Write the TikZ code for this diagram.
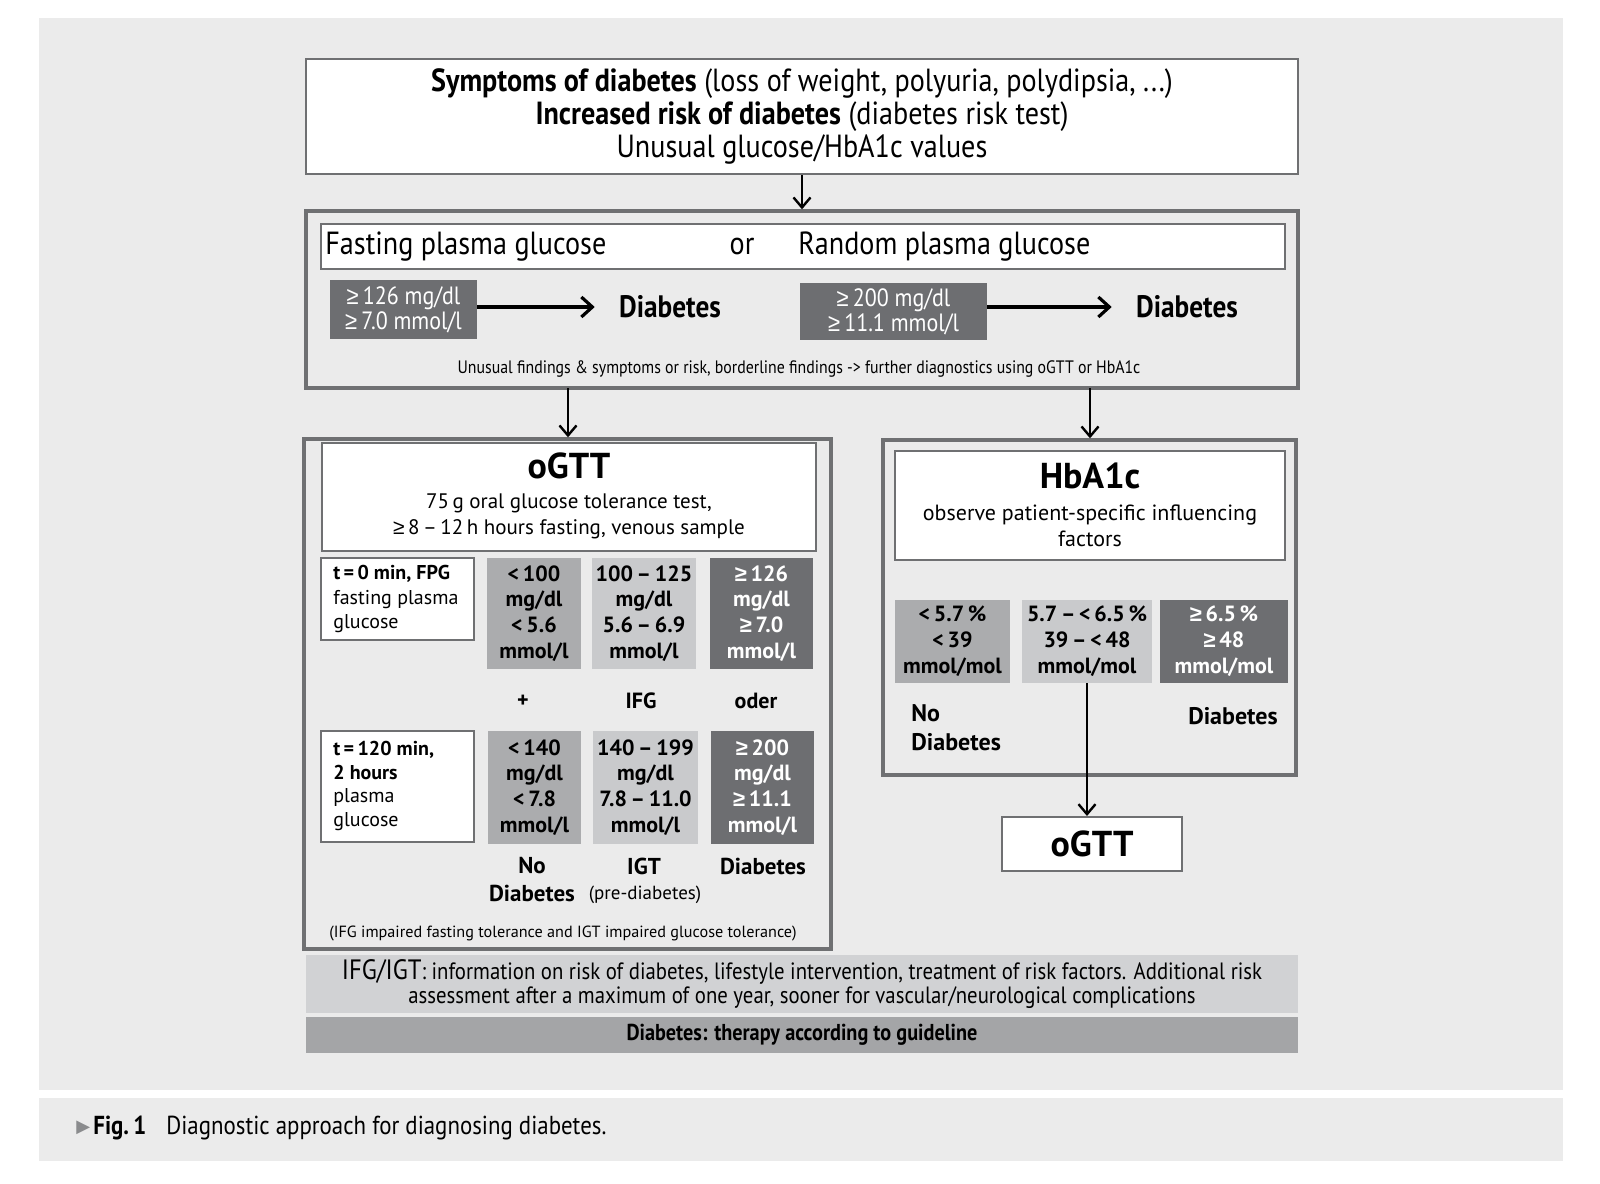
\documentclass[tikz,border=0pt]{standalone}
\usepackage{fontspec}
\setmainfont{PT Sans}
\newfontfamily\cond[FakeStretch=0.88]{PT Sans}
\newfontfamily\symfont{DejaVu Sans}
\newfontfamily\gefont{Liberation Sans}
\newfontfamily\gefontc[FakeStretch=0.88]{Liberation Sans}
\newcommand\gq{{\gefont ≥}}
\newcommand\gqc{{\gefontc ≥}}
\usetikzlibrary{arrows.meta}
\definecolor{bg}{HTML}{EBEBEB}
\definecolor{bord}{HTML}{6F7072}
\definecolor{dkg}{HTML}{6D6E71}
\definecolor{mdg}{HTML}{ABACAE}
\definecolor{ltg}{HTML}{C9CACC}
\definecolor{bar1}{HTML}{D1D2D4}
\definecolor{bar2}{HTML}{A4A5A7}
\definecolor{tri}{HTML}{8A8B8D}
\tikzset{
  box/.style={draw=bord, line width=1pt, fill=white, inner sep=0pt, align=center},
  outer/.style={draw=bord, line width=1.7pt, inner sep=0pt},
  cell/.style={inner sep=0pt, align=center, font=\bfseries\fontsize{11}{12.9}\selectfont},
  dkcell/.style={cell, fill=dkg, text=white},
  mdcell/.style={cell, fill=mdg},
  ltcell/.style={cell, fill=ltg},
  lbl/.style={inner sep=0pt, align=center},
  arr/.style={-{Straight Barb[length=5pt,width=8.5pt,line width=1.2pt]}, line width=1.1pt},
  harr/.style={-{Straight Barb[length=5.5pt,width=10pt]}, line width=1.6pt},
}
\begin{document}
\begin{tikzpicture}[x=0.5pt,y=-0.5pt]
\useasboundingbox (0,0) rectangle (1600,1183);
\fill[white] (0,0) rectangle (1600,1183);
\fill[bg] (39,18) rectangle (1563,1090);
\fill[bg] (39,1098) rectangle (1563,1161);

% top box
\node[box, minimum width=496pt, minimum height=57.5pt, font=\cond\fontsize{16}{16.5}\selectfont] (top) at (802,116.5)
  {\textbf{Symptoms of diabetes} (loss of weight, polyuria, polydipsia, ...)\\ \textbf{Increased risk of diabetes} (diabetes risk test)\\ Unusual glucose/HbA1c values};

% second box
\node[outer, minimum width=496pt, minimum height=88.5pt] (b2) at (802,299.5) {};
\node[box, minimum width=482pt, minimum height=22.5pt] (hdr) at (803,246.5) {};
\node[lbl, anchor=west, font=\cond\fontsize{16}{18}\selectfont] (fpg) at (325,246.5) {Fasting plasma glucose};
\node[lbl, font=\cond\fontsize{16}{18}\selectfont] (or) at (742,246.5) {or};
\node[lbl, anchor=west, font=\cond\fontsize{16}{18}\selectfont] (rpg) at (798,246.5) {Random plasma glucose};
\node[dkcell, minimum width=73.5pt, minimum height=29.5pt, font=\cond\fontsize{12.5}{12.5}\selectfont] (dk1) at (403.5,309.5) {\gqc\,126 mg/dl\\\gqc\,7.0 mmol/l};
\node[dkcell, minimum width=93.5pt, minimum height=28.5pt, font=\cond\fontsize{12.5}{12.5}\selectfont] (dk2) at (893.5,311.5) {\gqc\,200 mg/dl\\\gqc\,11.1 mmol/l};
\node[lbl, font=\cond\bfseries\fontsize{15.5}{18}\selectfont] (d1) at (670,307) {Diabetes};
\node[lbl, font=\cond\bfseries\fontsize{15.5}{18}\selectfont] (d2) at (1187,307) {Diabetes};
\draw[harr] (dk1.east |- d1) -- ([xshift=-12pt]d1.west);
\draw[harr] (dk2.east |- d2) -- ([xshift=-12pt]d2.west);
\node[lbl, font=\cond\fontsize{9}{11}\selectfont] (note) at (799,369) {Unusual findings \& symptoms or risk, borderline findings -> further diagnostics using oGTT or HbA1c};

\draw[arr] (top.south) -- (b2.north);

% oGTT block
\node[outer, minimum width=263.5pt, minimum height=255pt] (og) at (567.5,694) {};
\node[box, minimum width=247pt, minimum height=54pt] (oghdr) at (569,497) {};
\node[lbl, font=\bfseries\fontsize{18}{20}\selectfont] (ogt) at (569,466) {oGTT};
\node[lbl, font=\fontsize{10.5}{13}\selectfont] (ogsub) at (569,516) {75\,g oral glucose tolerance test,\\ \gq\,8\,–\,12\,h hours fasting, venous sample};

\node[box, minimum width=76.5pt, minimum height=41pt] (l1) at (397.5,599) {};
\node[lbl, anchor=west, align=left, font=\fontsize{10}{12.4}\selectfont] (l1t) at (333,599)
  {\textbf{t\,=\,0 min, FPG}\\ fasting plasma\\ glucose};
\node[mdcell, minimum width=47pt, minimum height=55.5pt] (c11) at (534,613.5) {<\,100\\ mg/dl\\ <\,5.6\\ mmol/l};
\node[ltcell, minimum width=52pt, minimum height=55.5pt] (c12) at (644,613.5) {100\,–\,125\\ mg/dl\\ 5.6\,–\,6.9\\ mmol/l};
\node[dkcell, minimum width=51.5pt, minimum height=55.5pt] (c13) at (761.5,613.5) {\gq\,126\\ mg/dl\\ \gq\,7.0\\ mmol/l};

\node[lbl, font=\bfseries\fontsize{11}{13}\selectfont] (plus) at (523,701) {+};
\node[lbl, font=\bfseries\fontsize{11}{13}\selectfont] (ifg) at (641,701) {IFG};
\node[lbl, font=\bfseries\fontsize{11}{13}\selectfont] (oder) at (756,701) {oder};

\node[box, minimum width=76.5pt, minimum height=55.5pt] (l2) at (397.5,786.5) {};
\node[lbl, anchor=west, align=left, font=\fontsize{10}{11.8}\selectfont] (l2t) at (333,786)
  {\textbf{t\,=\,120 min,}\\ \textbf{2 hours}\\ plasma\\ glucose};
\node[mdcell, minimum width=46.5pt, minimum height=56.5pt] (c21) at (534.5,787.5) {<\,140\\ mg/dl\\ <\,7.8\\ mmol/l};
\node[ltcell, minimum width=52.5pt, minimum height=56.5pt] (c22) at (645.5,787.5) {140\,–\,199\\ mg/dl\\ 7.8\,–\,11.0\\ mmol/l};
\node[dkcell, minimum width=51.5pt, minimum height=56.5pt] (c23) at (762.5,787.5) {\gq\,200\\ mg/dl\\ \gq\,11.1\\ mmol/l};

\node[lbl, font=\bfseries\fontsize{11.5}{14}\selectfont] (nod) at (532,880) {No\\ Diabetes};
\node[lbl, font=\bfseries\fontsize{11.5}{14}\selectfont] (igt) at (644,866) {IGT};
\node[lbl, font=\fontsize{9.5}{11}\selectfont] (pre) at (645,895) {(pre-diabetes)};
\node[lbl, font=\bfseries\fontsize{11.5}{14}\selectfont] (dia) at (763,866) {Diabetes};
\node[lbl, font=\fontsize{8.1}{10}\selectfont] (foot) at (563,934) {(IFG impaired fasting tolerance and IGT impaired glucose tolerance)};

% HbA1c block
\node[outer, minimum width=206.5pt, minimum height=167.5pt] (hb) at (1089.5,607.5) {};
\node[box, minimum width=195pt, minimum height=54.5pt] (hbhdr) at (1090,505.5) {};
\node[lbl, font=\bfseries\fontsize{18}{20}\selectfont] (hbt) at (1090,476) {HbA1c};
\node[lbl, font=\fontsize{11}{13}\selectfont] (hbsub) at (1090,526) {observe patient-specific influencing\\ factors};
\node[mdcell, minimum width=57.5pt, minimum height=41.5pt, font=\bfseries\fontsize{11}{13}\selectfont] (h1) at (952.5,641.5) {<\,5.7\,\%\\ <\,39\\ mmol/mol};
\node[ltcell, minimum width=65pt, minimum height=41.5pt, font=\bfseries\fontsize{11}{13}\selectfont] (h2) at (1087,641.5) {5.7\,–\,<\,6.5\,\%\\ 39\,–\,<\,48\\ mmol/mol};
\node[dkcell, minimum width=64pt, minimum height=41.5pt, font=\bfseries\fontsize{11}{13}\selectfont] (h3) at (1224,641.5) {\gq\,6.5\,\%\\ \gq\,48\\ mmol/mol};
\node[lbl, anchor=west, align=left, font=\bfseries\fontsize{12}{14.5}\selectfont] (hnod) at (911,727.5) {No\\ Diabetes};
\node[lbl, font=\bfseries\fontsize{12}{14}\selectfont] (hdia) at (1233,716) {Diabetes};
\node[box, minimum width=90pt, minimum height=27pt, font=\bfseries\fontsize{18}{20}\selectfont] (og2) at (1092,844) {oGTT};

\coordinate (a1) at (568,388);
\coordinate (a2) at (1090,388);
\draw[arr] (a1) -- (a1 |- og.north);
\draw[arr] (a2) -- (a2 |- hb.north);
\draw[arr] (h2.south) -- (h2.south |- og2.north);

% bottom bars
\node[lbl, fill=bar1, minimum width=496pt, minimum height=29pt, font=\cond\fontsize{11.8}{11.8}\selectfont] (bar1) at (802,984)
  {{\fontsize{14}{14}\selectfont IFG/IGT}: information on risk of diabetes, lifestyle intervention, treatment of risk factors. Additional risk\\ assessment after a maximum of one year, sooner for vascular/neurological complications};
\node[lbl, fill=bar2, minimum width=496pt, minimum height=18pt, font=\cond\bfseries\fontsize{11.5}{13}\selectfont] (bar2) at (802,1035) {Diabetes: therapy according to guideline};

% caption
\node[lbl, anchor=west, text=tri, font=\symfont\fontsize{9}{10}\selectfont] (trg) at (76,1128) {▶};
\node[lbl, anchor=west, font=\cond\fontsize{13}{15}\selectfont] (cap) at (93,1128) {\textbf{Fig.\,1}\hspace{10pt}Diagnostic approach for diagnosing diabetes.};
\end{tikzpicture}
\end{document}
